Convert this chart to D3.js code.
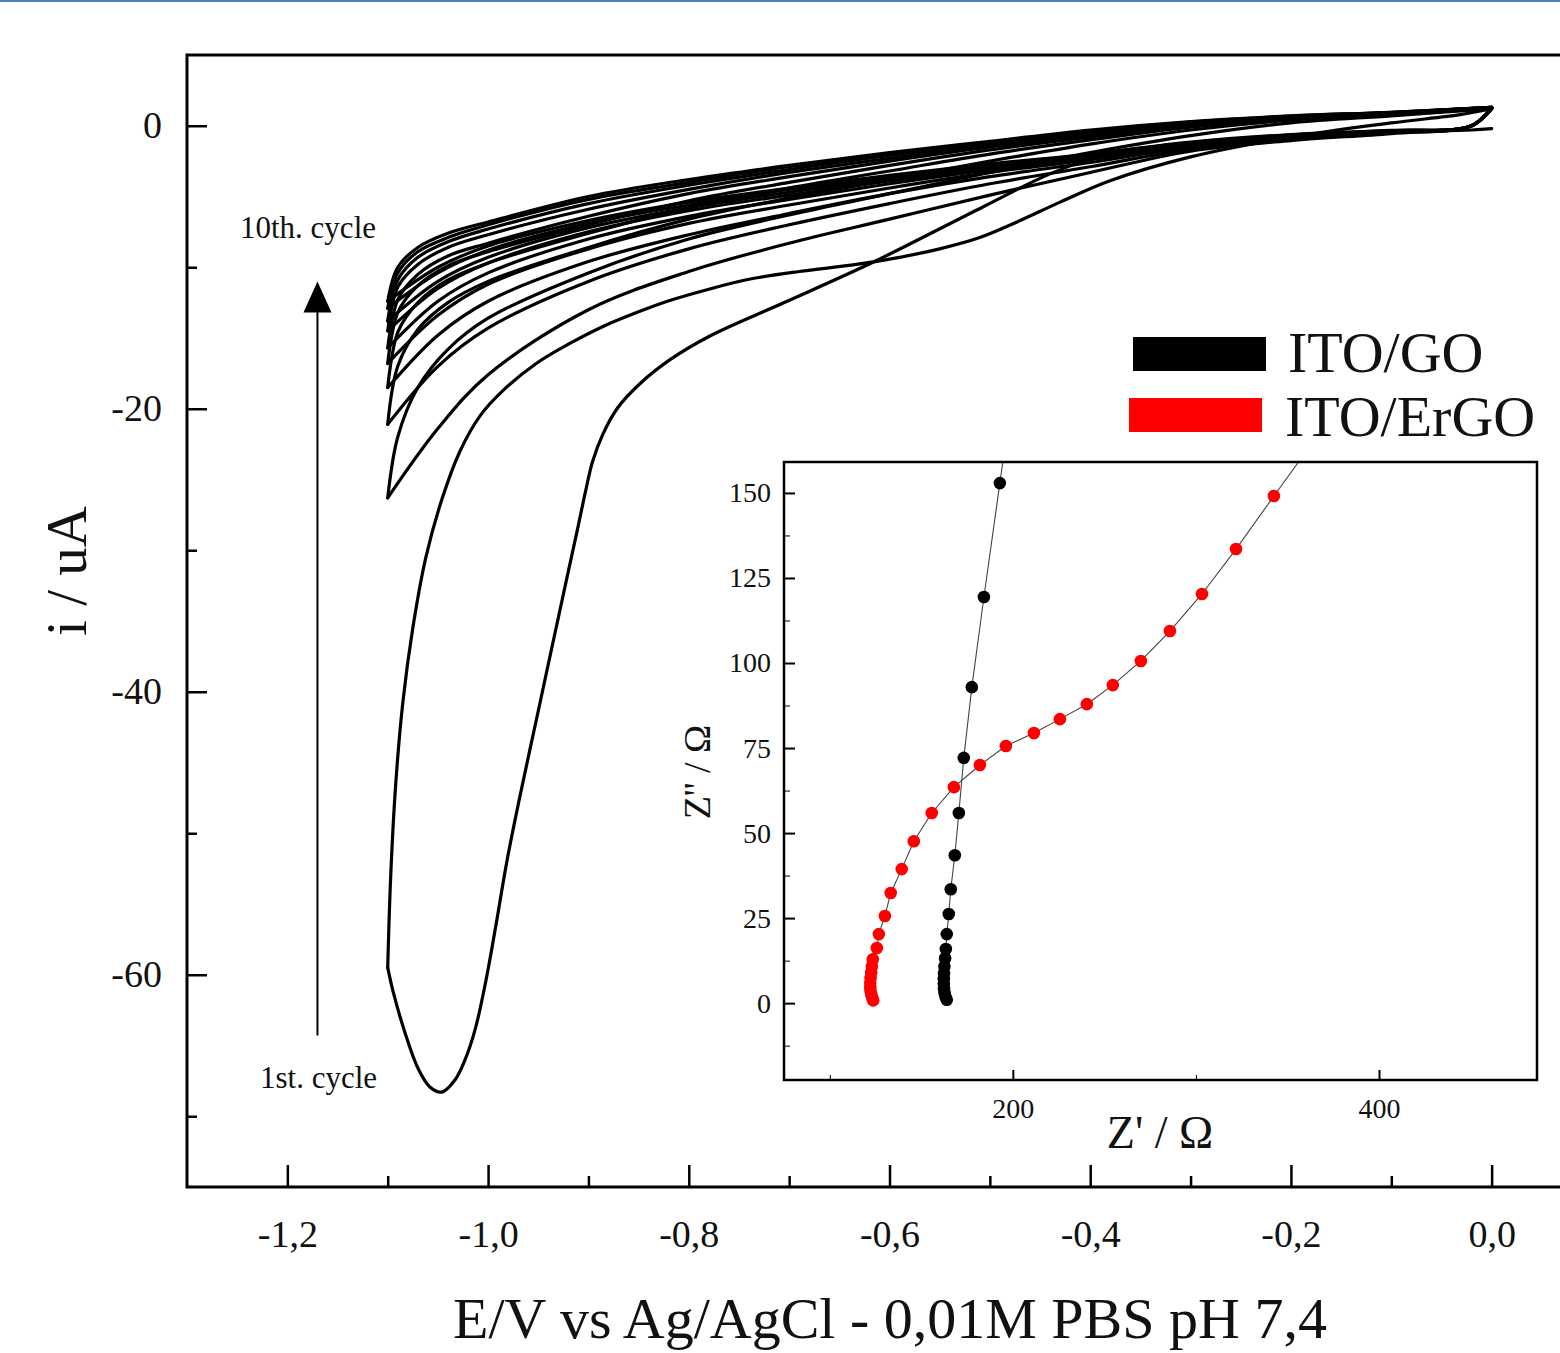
<!DOCTYPE html>
<html>
<head>
<meta charset="utf-8">
<script src="https://cdn.jsdelivr.net/npm/d3@7"></script>
<style>
  body { margin: 0; background: #fff; }
  svg { display: block; }
  text { font-family: "Liberation Serif", "Times New Roman", serif; fill: #111; }
</style>
</head>
<body>
<script>
// ---- data: cyclic voltammetry, 10 cycles (E in V, i in uA) ----
// cycle 1 has its own potential grid because of the big reduction peak
const c1FwdE = [0, -0.02, -0.1, -0.2, -0.3, -0.34, -0.38, -0.44, -0.507, -0.616, -0.706, -0.779, -0.819, -0.849, -0.871, -0.886, -0.896, -0.903, -0.91, -0.923, -0.938, -0.953, -0.968, -0.981, -0.993, -1.003, -1.013, -1.023, -1.033, -1.046, -1.058, -1.07, -1.083, -1.095, -1.1];
const c1FwdI = [-0.2, -0.3, -0.45, -0.8, -1.2, -1.5, -1.93, -3.4, -5.74, -9.63, -12.53, -14.86, -16.55, -18.25, -19.95, -21.86, -23.76, -25.88, -28.22, -32.46, -37.4, -42.35, -47.3, -51.89, -56.84, -60.72, -63.9, -66.02, -67.44, -68.29, -67.93, -66.59, -64.05, -61.08, -59.5];
const c1RevE = [-1.1, -1.097, -1.092, -1.085, -1.075, -1.062, -1.046, -1.028, -1.008, -0.985, -0.952, -0.919, -0.886, -0.852, -0.819, -0.78, -0.74, -0.69, -0.633, -0.59, -0.55, -0.51, -0.473, -0.43, -0.381, -0.3, -0.2, -0.1, -0.03, 0];
const c1RevI = [-59.5, -53.0, -46.5, -40.8, -35.5, -30.5, -26.4, -23.0, -20.5, -18.7, -16.8, -15.4, -14.2, -13.2, -12.35, -11.55, -10.85, -10.3, -9.8, -9.3, -8.7, -7.9, -6.8, -5.4, -3.9, -2.2, -0.8, 0.2, 0.8, 1.2];

// cycles 2..10 share these potentials
const fwdE = [0, -0.02, -0.1, -0.2, -0.3, -0.4, -0.5, -0.6, -0.7, -0.8, -0.9, -1.0, -1.05, -1.1];
const revE = [-1.1, -1.09, -1.07, -1.04, -1.0, -0.9, -0.8, -0.7, -0.6, -0.5, -0.4, -0.3, -0.2, -0.1, 0];

const fwdI = [
  [1.2, 0.0, -0.55, -1.05, -1.8, -3.3, -4.9, -6.6, -8.3, -10.3, -13.0, -17.6, -21.4, -26.3],
  [1.2, 0.0, -0.5, -0.95, -1.65, -2.9, -4.1, -5.5, -7.0, -8.7, -11.0, -14.3, -17.0, -21.1],
  [1.2, 0.0, -0.45, -0.85, -1.5, -2.6, -3.6, -4.8, -6.2, -7.7, -9.6, -12.4, -14.8, -18.5],
  [1.25, 0.0, -0.42, -0.8, -1.4, -2.4, -3.3, -4.4, -5.6, -6.9, -8.7, -11.2, -13.4, -16.8],
  [1.25, 0.0, -0.4, -0.75, -1.35, -2.3, -3.1, -4.1, -5.2, -6.4, -8.0, -10.4, -12.4, -15.7],
  [1.3, 0.0, -0.38, -0.7, -1.3, -2.2, -2.95, -3.9, -4.9, -6.0, -7.5, -9.7, -11.5, -14.5],
  [1.3, 0.0, -0.36, -0.68, -1.25, -2.1, -2.85, -3.75, -4.7, -5.8, -7.2, -9.3, -11.0, -13.8],
  [1.3, 0.0, -0.35, -0.65, -1.2, -2.05, -2.75, -3.6, -4.5, -5.6, -6.9, -8.8, -10.4, -12.9],
  [1.3, 0.0, -0.33, -0.62, -1.15, -2.0, -2.7, -3.5, -4.4, -5.4, -6.7, -8.5, -10.0, -12.4]
];
const revI = [
  [-26.3, -22.0, -18.5, -15.8, -13.6, -10.4, -8.0, -6.3, -4.8, -3.3, -1.9, -0.7, 0.2, 0.7, 1.2],
  [-21.1, -17.0, -14.4, -12.5, -11.0, -8.6, -6.6, -5.1, -3.8, -2.5, -1.3, -0.3, 0.4, 0.8, 1.2],
  [-18.5, -14.6, -12.5, -10.9, -9.7, -7.6, -5.8, -4.4, -3.2, -2.0, -1.0, -0.1, 0.5, 0.85, 1.25],
  [-16.8, -13.2, -11.3, -9.9, -8.9, -7.0, -5.3, -4.0, -2.8, -1.7, -0.8, 0.0, 0.55, 0.9, 1.25],
  [-15.7, -12.3, -10.5, -9.2, -8.3, -6.4, -4.8, -3.6, -2.5, -1.5, -0.7, 0.1, 0.6, 0.9, 1.3],
  [-14.5, -11.4, -9.8, -8.6, -7.7, -5.9, -4.5, -3.3, -2.3, -1.4, -0.6, 0.15, 0.6, 0.92, 1.3],
  [-13.8, -10.9, -9.3, -8.2, -7.3, -5.5, -4.2, -3.1, -2.1, -1.3, -0.5, 0.2, 0.65, 0.93, 1.3],
  [-12.9, -10.4, -8.9, -7.9, -7.0, -5.2, -4.0, -2.9, -2.0, -1.2, -0.4, 0.25, 0.68, 0.95, 1.3],
  [-12.4, -10.0, -8.6, -7.6, -6.8, -5.0, -3.8, -2.8, -1.9, -1.1, -0.3, 0.3, 0.7, 0.95, 1.3]
];

const xMajor = [-1.2, -1.0, -0.8, -0.6, -0.4, -0.2, 0.0];
const xMinor = [-1.1, -0.9, -0.7, -0.5, -0.3, -0.1];
const yMajor = [0, -20, -40, -60];
const yMinor = [-10, -30, -50, -70];

// ---- inset: Nyquist plot ----
const goZre = [201.5, 192.9, 184.2, 177.6, 173.2, 170.5, 168.3, 166.1, 165.0, 163.9, 163.4, 163.0, 162.6, 162.4, 162.3, 162.3, 162.4, 162.7, 163.2, 163.9];
const goZim = [186, 152.9, 119.4, 92.9, 72.1, 55.9, 43.5, 33.5, 26.2, 20.3, 15.9, 13.2, 10.8, 8.8, 7.1, 5.6, 4.2, 3.0, 1.9, 1.0];
const ergoZre = [368, 342.6, 321.9, 303.3, 285.8, 269.9, 254.6, 240.4, 225.7, 211.5, 196.2, 182.0, 167.8, 155.7, 145.9, 139.3, 133.3, 130.1, 126.8, 125.7, 123.5, 123.0, 122.6, 122.3, 122.1, 122.1, 122.3, 122.7, 123.2, 123.7];
const ergoZim = [168, 149.1, 133.5, 120.3, 109.4, 100.6, 93.5, 87.9, 83.5, 79.4, 75.6, 70.0, 63.5, 55.9, 47.6, 39.4, 32.4, 25.6, 20.3, 16.2, 12.9, 10.8, 9.0, 7.4, 6.0, 4.7, 3.5, 2.4, 1.5, 0.8];

const inXMajor = [200, 400];
const inXMinor = [100, 300];
const inYMajor = [0, 25, 50, 75, 100, 125, 150];
const inYMinor = [-12.5, 12.5, 37.5, 62.5, 87.5, 112.5, 137.5];

const legendNames = ["ITO/GO", "ITO/ErGO"];
const legendColors = ["#000000", "#ff0000"];

// ---- layout ----
const W = 1560, H = 1353;
const svg = d3.select("body").append("svg").attr("width", W).attr("height", H);

// thin blue rule at the very top of the picture
svg.append("rect").attr("x", 0).attr("y", 0).attr("width", W).attr("height", 2).attr("fill", "#4f7fc4");

const x = d3.scaleLinear().domain([-1.3, 0.1]).range([187, 1592]);
const y = d3.scaleLinear().domain([-75, 5]).range([1187, 55]);

const fmt = (d) => d.toFixed(1).replace(".", ",");

// axes (ticks inward)
const gx = svg.append("g").attr("transform", "translate(0,1187)")
  .call(d3.axisBottom(x).tickValues(xMajor).tickSize(-22).tickPadding(33).tickFormat(fmt));
svg.append("g").attr("transform", "translate(0,1187)")
  .call(d3.axisBottom(x).tickValues(xMinor).tickSize(-11).tickFormat(""));
const gy = svg.append("g").attr("transform", "translate(187,0)")
  .call(d3.axisLeft(y).tickValues(yMajor).tickSize(-20).tickPadding(25).tickFormat((d) => String(d)));
svg.append("g").attr("transform", "translate(187,0)")
  .call(d3.axisLeft(y).tickValues(yMinor).tickSize(-10).tickFormat(""));

svg.selectAll(".domain").remove();
svg.selectAll(".tick line").attr("stroke", "#000").attr("stroke-width", 2.5);
gx.selectAll("text").attr("font-size", "38px").attr("fill", "#111");
gy.selectAll("text").attr("font-size", "38px").attr("fill", "#111");

// frame (right side falls outside the picture)
svg.append("rect").attr("x", 187).attr("y", 55).attr("width", 1592 - 187).attr("height", 1187 - 55)
  .attr("fill", "none").attr("stroke", "#000").attr("stroke-width", 3);

// axis titles
svg.append("text").attr("x", 890).attr("y", 1338).attr("text-anchor", "middle")
  .attr("font-size", "58px").text("E/V vs Ag/AgCl - 0,01M PBS pH 7,4");
svg.append("text").attr("transform", "translate(86,571) rotate(-90)").attr("text-anchor", "middle")
  .attr("font-size", "57px").text("i / uA");

// CV curves, each sweep drawn in scan order
const line = d3.line().x((d) => x(d[0])).y((d) => y(d[1])).curve(d3.curveCatmullRom.alpha(0.5));
const branches = [];
branches.push(d3.zip(c1FwdE, c1FwdI));
branches.push(d3.zip(c1RevE, c1RevI));
fwdI.forEach((arr, k) => {
  branches.push(d3.zip(fwdE, arr));
  branches.push(d3.zip(revE, revI[k]));
});
svg.append("g").selectAll("path").data(branches).join("path")
  .attr("d", line)
  .attr("fill", "none").attr("stroke", "#000").attr("stroke-width", 3.2)
  .attr("stroke-linejoin", "round").attr("stroke-linecap", "round");

// cycle arrow and labels
const ax = x(-1.17);
svg.append("line").attr("x1", ax).attr("x2", ax).attr("y1", y(-64.3)).attr("y2", y(-12.8))
  .attr("stroke", "#000").attr("stroke-width", 2);
svg.append("path")
  .attr("d", `M${ax},${y(-11.0)} L${ax - 14},${y(-13.2)} L${ax + 14},${y(-13.2)} Z`)
  .attr("fill", "#000");
svg.append("text").attr("x", 240).attr("y", 238).attr("font-size", "31px").text("10th. cycle");
svg.append("text").attr("x", 260).attr("y", 1088).attr("font-size", "31px").text("1st. cycle");

// legend
const lg = svg.append("g");
legendNames.forEach((name, k) => {
  lg.append("rect").attr("x", k === 0 ? 1133 : 1129).attr("y", k === 0 ? 337 : 398)
    .attr("width", 133).attr("height", 34).attr("fill", legendColors[k]);
  lg.append("text").attr("x", k === 0 ? 1288 : 1285).attr("y", k === 0 ? 372 : 436)
    .attr("font-size", "58px").text(name);
});

// ---- inset ----
const ix = d3.scaleLinear().domain([75, 486.3]).range([784, 1537]);
const iy = d3.scaleLinear().domain([-22.6, 159.1]).range([1080, 462]);

svg.append("rect").attr("x", 784).attr("y", 462).attr("width", 1537 - 784).attr("height", 1080 - 462)
  .attr("fill", "#fff");

const igx = svg.append("g").attr("transform", "translate(0,1080)")
  .call(d3.axisBottom(ix).tickValues(inXMajor).tickSize(-10).tickPadding(18).tickFormat(d3.format("d")));
svg.append("g").attr("transform", "translate(0,1080)")
  .call(d3.axisBottom(ix).tickValues(inXMinor).tickSize(-5).tickFormat(""));
const igy = svg.append("g").attr("transform", "translate(784,0)")
  .call(d3.axisLeft(iy).tickValues(inYMajor).tickSize(-11).tickPadding(13).tickFormat(d3.format("d")));
svg.append("g").attr("transform", "translate(784,0)")
  .call(d3.axisLeft(iy).tickValues(inYMinor).tickSize(-6).tickFormat(""));
svg.selectAll(".domain").remove();
svg.selectAll(".tick line").attr("stroke", "#000");
igx.selectAll(".tick line").attr("stroke-width", 2);
igy.selectAll(".tick line").attr("stroke-width", 2);
igx.selectAll("text").attr("font-size", "28px").attr("fill", "#111");
igy.selectAll("text").attr("font-size", "28px").attr("fill", "#111");

svg.append("clipPath").attr("id", "inclip").append("rect")
  .attr("x", 784).attr("y", 462).attr("width", 1537 - 784).attr("height", 1080 - 462);

const iline = d3.line().x((d) => ix(d[0])).y((d) => iy(d[1]));
const series = [
  { pts: d3.zip(goZre, goZim), color: legendColors[0] },
  { pts: d3.zip(ergoZre, ergoZim), color: legendColors[1] }
];
const ig = svg.append("g").attr("clip-path", "url(#inclip)");
series.forEach((s) => {
  ig.append("path").attr("d", iline(s.pts)).attr("fill", "none")
    .attr("stroke", "#444").attr("stroke-width", 1.1);
  ig.append("g").selectAll("circle").data(s.pts).join("circle")
    .attr("cx", (d) => ix(d[0])).attr("cy", (d) => iy(d[1])).attr("r", 6.3)
    .attr("fill", s.color);
});

svg.append("rect").attr("x", 784).attr("y", 462).attr("width", 1537 - 784).attr("height", 1080 - 462)
  .attr("fill", "none").attr("stroke", "#000").attr("stroke-width", 2.5);

svg.append("text").attr("x", 1160).attr("y", 1148).attr("text-anchor", "middle")
  .attr("font-size", "46px").text("Z' / Ω");
svg.append("text").attr("transform", "translate(710,772) rotate(-90)").attr("text-anchor", "middle")
  .attr("font-size", "38px").text("Z'' / Ω");
</script>
</body>
</html>
